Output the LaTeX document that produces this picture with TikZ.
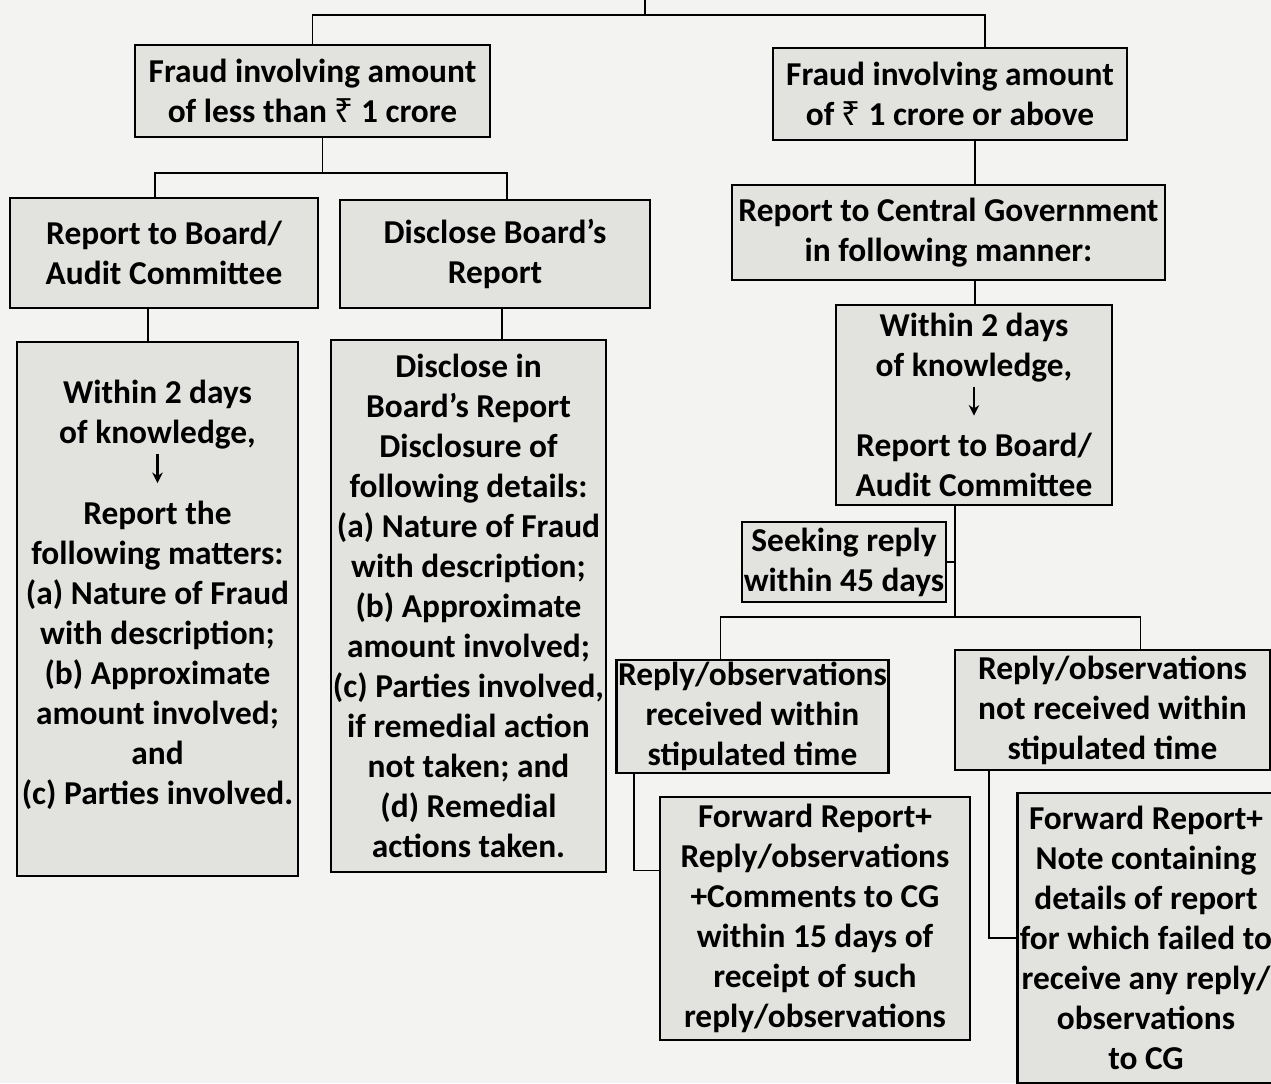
\documentclass[tikz,border=0pt]{standalone}
\usepackage{fontspec}
\setmainfont{Carlito}
\newfontfamily\rupeefont{Noto Sans}
\usepackage{xcolor}
\definecolor{paper}{RGB}{243,243,241}
\definecolor{boxgray}{RGB}{226,226,223}
\usetikzlibrary{arrows.meta,calc}
\newcommand{\rs}{{\rupeefont\bfseries ₹}}
\newcommand{\dn}{\tikz[baseline=0pt,x=1cm,y=1cm]\draw[-{Stealth[length=6pt,width=6pt]},line width=1.2pt] (0,0.6) -- (0,0.02);}

\begin{document}
\begin{tikzpicture}[x=0.02cm,y=-0.02cm,>=Stealth,
  box/.style={draw,line width=1.4pt,fill=boxgray,align=center,inner sep=1pt,font=\fontsize{19}{22.8}\selectfont\bfseries},
  link/.style={line width=1.1pt}]
\clip (0,0) rectangle (1271,1083);
\fill[paper] (0,0) rectangle (1271,1083);
\node[box,minimum width=7.1cm,minimum height=1.84cm] (A) at (312.5,91) {Fraud involving amount\\of less than \rs\ 1 crore};
\node[box,minimum width=7.08cm,minimum height=1.84cm] (B) at (950,94) {Fraud involving amount\\of \rs\ 1 crore or above};
\node[box,minimum width=6.16cm,minimum height=2.2cm] (C) at (164,253) {Report to Board/\\Audit Committee};
\node[box,minimum width=6.2cm,minimum height=2.16cm] (D) at (495,254) {Disclose Board's\\Report};
\node[box,minimum width=5.62cm,minimum height=10.68cm] (E) at (157.5,609) {Within 2 days\\of knowledge,\\\dn\\Report the\\following matters:\\(a) Nature of Fraud\\with description;\\(b) Approximate\\amount involved;\\and\\(c) Parties involved.\\[-4pt]\mbox{}};
\node[box,minimum width=5.42cm,minimum height=10.64cm] (F) at (468.5,606) {Disclose in\\Board's Report\\Disclosure of\\following details:\\(a) Nature of Fraud\\with description;\\(b) Approximate\\amount involved;\\(c) Parties involved,\\if remedial action\\not taken; and\\(d) Remedial\\actions taken.};
\node[box,minimum width=8.66cm,minimum height=1.9cm] (G) at (948.5,232.5) {Report to Central Government\\in following manner:};
\node[box,minimum width=5.52cm,minimum height=4cm] (H) at (974,405) {Within 2 days\\of knowledge,\\\dn\\Report to Board/\\Audit Committee};
\node[box,minimum width=4.04cm,minimum height=1.6cm] (I) at (844,562) {Seeking reply\\within 45 days};
\node[box,minimum width=5.42cm,minimum height=2.26cm] (J) at (752.5,716.5) {Reply/observations\\received within\\stipulated time};
\node[box,minimum width=6.3cm,minimum height=2.4cm] (K) at (1112.5,710) {Reply/observations\\not received within\\stipulated time};
\node[box,minimum width=6.2cm,minimum height=4.86cm] (L) at (815,918.5) {Forward Report+\\Reply/observations\\+Comments to CG\\within 15 days of\\receipt of such\\reply/observations};
\node[box,minimum width=5.14cm,minimum height=5.8cm] (M) at (1146,938) {Forward Report+\\Note containing\\details of report\\for which failed to\\receive any reply/\\observations\\to CG};
\coordinate (top) at (645,0);
\coordinate (split) at (645,15);
\draw[link] (top) -- (split);
\draw[link] (A.north) |- (split) -| ($(B.north)+(35,0)$);
\draw[link] ($(A.south)+(10,0)$) -- ++(0,35) coordinate (sa);
\draw[link] ($(C.north)+(-9,0)$) |- (sa) -| ($(D.north)+(12,0)$);
\draw[link] ($(C.south)+(-16,0)$) -- ($(E.north)+(-9.5,0)$);
\draw[link] ($(D.south)+(7,0)$) -- ($(F.north)+(33.5,0)$);
\draw[link] ($(B.south)+(25,0)$) -- ($(G.north)+(26.5,0)$);
\draw[link] ($(G.south)+(26.5,0)$) -- ($(H.north)+(1,0)$);
\coordinate (sh) at (955,617);
\draw[link] (H.south -| sh) -- (sh);
\draw[link] (I.east) -- (I.east -| sh);
\draw[link] ($(J.north)+(-32,0)$) |- (sh) -| ($(K.north)+(28,0)$);
\draw[link] ($(J.south west)+(19,0)$) |- ($(L.west)+(0,-48)$);
\draw[link] ($(K.south west)+(35,0)$) |- (M.west);
\end{tikzpicture}
\end{document}
